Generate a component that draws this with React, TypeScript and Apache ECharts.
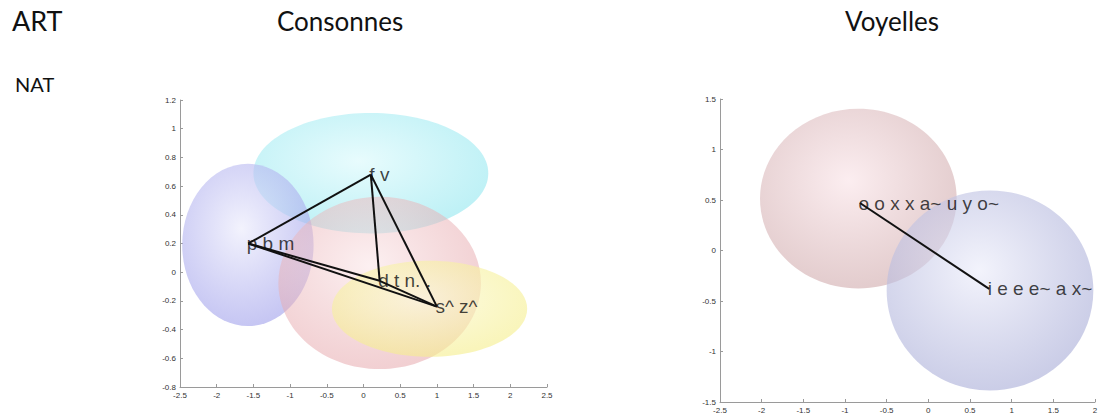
import React, { useEffect, useRef } from "react";
import * as echarts from "echarts";

// ---- Data: Consonnes (left panel) ----
const consLabels = ["p b m", "f v", "d t n. .", "s^ z^"];
const consX = [-1.57, 0.1, 0.22, 1.0];
const consY = [0.2, 0.68, -0.06, -0.24];
// edges between category centres (index pairs)
const consEdges = [
  [0, 1],
  [1, 2],
  [1, 3],
  [0, 2],
  [0, 3],
  [2, 3],
];
// ellipses: centre x, centre y, radius x, radius y
const consEllCx = [0.1, -1.575, 0.22, 0.9];
const consEllCy = [0.69, 0.19, -0.075, -0.255];
const consEllRx = [1.6, 0.895, 1.38, 1.33];
const consEllRy = [0.42, 0.565, 0.6, 0.335];
const consEllBase = [
  "rgba(150,232,240,0.62)",
  "rgba(160,160,235,0.6)",
  "rgba(228,160,165,0.5)",
  "rgba(245,238,140,0.6)",
];
const consEllLight = [
  "rgba(220,250,252,0.66)",
  "rgba(236,236,252,0.65)",
  "rgba(250,228,230,0.55)",
  "rgba(252,250,215,0.65)",
];

// ---- Data: Voyelles (right panel) ----
const voyLabels = ["o o x x a~ u y o~", "i e e e~ a x~"];
const voyX = [-0.82, 0.73];
const voyY = [0.47, -0.38];
const voyEllCx = [-0.84, 0.74];
const voyEllCy = [0.514, -0.395];
const voyEllRx = [1.18, 1.24];
const voyEllRy = [0.89, 0.99];
const voyEllBase = ["rgba(208,170,172,0.6)", "rgba(168,172,215,0.6)"];
const voyEllLight = ["rgba(250,228,232,0.65)", "rgba(236,237,250,0.65)"];

// ---- Axis ranges / ticks ----
const consXMin = -2.5, consXMax = 2.5, consXStep = 0.5;
const consYMin = -0.8, consYMax = 1.2, consYStep = 0.2;
const voyXMin = -2.5, voyXMax = 2, voyXStep = 0.5;
const voyYMin = -1.5, voyYMax = 1.5, voyYStep = 0.5;

const titles = [
  { text: "ART", x: 12, y: 24, size: 27 },
  { text: "Consonnes", x: 277, y: 24, size: 26 },
  { text: "Voyelles", x: 845, y: 24, size: 26 },
  { text: "NAT", x: 15, y: 86, size: 20 },
];

function fmt(v: number) {
  const r = Math.round(v * 10) / 10;
  return String(r);
}

function axisStyle() {
  return {
    axisLine: { show: true, onZero: false, lineStyle: { color: "#9a9a9a", width: 1 } },
    axisTick: { show: true, inside: true, length: 3, lineStyle: { color: "#9a9a9a" } },
    splitLine: { show: false },
    axisLabel: {
      color: "#333",
      fontSize: 8,
      fontFamily: "Liberation Sans, Arial, sans-serif",
      formatter: (v: number) => fmt(v),
      margin: 4,
    },
  };
}

function ellipseSeries(
  gridIdx: number,
  cx: number[],
  cy: number[],
  rx: number[],
  ry: number[],
  base: string[],
  light: string[]
) {
  return {
    type: "custom",
    xAxisIndex: gridIdx,
    yAxisIndex: gridIdx,
    clip: false,
    silent: true,
    data: cx.map((x, i) => [x, cy[i], rx[i], ry[i], i]),
    renderItem: (params: any, api: any) => {
      const i = api.value(4);
      const c = api.coord([api.value(0), api.value(1)]);
      const s = api.size([api.value(2), api.value(3)]);
      return {
        type: "ellipse",
        shape: { cx: c[0], cy: c[1], rx: s[0], ry: s[1] },
        style: {
          fill: new echarts.graphic.RadialGradient(0.45, 0.4, 0.6, [
            { offset: 0, color: light[i] },
            { offset: 1, color: base[i] },
          ]),
          stroke: "none",
        },
      };
    },
  };
}

function labelSeries(gridIdx: number, xs: number[], ys: number[], labels: string[], size: number) {
  return {
    type: "scatter",
    xAxisIndex: gridIdx,
    yAxisIndex: gridIdx,
    symbolSize: 1,
    itemStyle: { color: "rgba(0,0,0,0)" },
    silent: true,
    z: 5,
    data: xs.map((x, i) => ({ value: [x, ys[i]], name: labels[i] })),
    label: {
      show: true,
      position: "right",
      distance: -2,
      formatter: (p: any) => p.name,
      color: "#111",
      fontSize: size,
      fontFamily: "Liberation Sans, Arial, sans-serif",
    },
  };
}

export default function App() {
  const ref = useRef<HTMLDivElement>(null);
  useEffect(() => {
    document.body.style.margin = "0";
    const chart = echarts.init(ref.current!, null, { renderer: "svg" });

    const lineSeries: any[] = [];
    consEdges.forEach(([a, b]) => {
      lineSeries.push({
        type: "line",
        xAxisIndex: 0,
        yAxisIndex: 0,
        symbol: "none",
        silent: true,
        z: 4,
        lineStyle: { color: "#111", width: 2 },
        data: [
          [consX[a], consY[a]],
          [consX[b], consY[b]],
        ],
      });
    });
    lineSeries.push({
      type: "line",
      xAxisIndex: 1,
      yAxisIndex: 1,
      symbol: "none",
      silent: true,
      z: 4,
      lineStyle: { color: "#111", width: 2 },
      data: [
        [voyX[0], voyY[0]],
        [voyX[1], voyY[1]],
      ],
    });

    chart.setOption({
      animation: false,
      backgroundColor: "#fff",
      grid: [
        { left: 180, top: 100, width: 367, height: 287 },
        { left: 720, top: 99, width: 375, height: 304 },
      ],
      xAxis: [
        { type: "value", gridIndex: 0, min: consXMin, max: consXMax, interval: consXStep, ...axisStyle() },
        { type: "value", gridIndex: 1, min: voyXMin, max: voyXMax, interval: voyXStep, ...axisStyle() },
      ],
      yAxis: [
        { type: "value", gridIndex: 0, min: consYMin, max: consYMax, interval: consYStep, ...axisStyle() },
        { type: "value", gridIndex: 1, min: voyYMin, max: voyYMax, interval: voyYStep, ...axisStyle() },
      ],
      graphic: titles.map((t) => ({
        type: "text",
        left: t.x,
        top: t.y - t.size * 0.62,
        style: {
          text: t.text,
          fontSize: t.size,
          fontFamily: "Lato, 'Open Sans', sans-serif",
          fill: "#111",
        },
      })),
      series: [
        ellipseSeries(0, consEllCx, consEllCy, consEllRx, consEllRy, consEllBase, consEllLight),
        ellipseSeries(1, voyEllCx, voyEllCy, voyEllRx, voyEllRy, voyEllBase, voyEllLight),
        ...lineSeries,
        labelSeries(0, consX, consY, consLabels, 19),
        labelSeries(1, voyX, voyY, voyLabels, 19),
      ],
    });
    return () => chart.dispose();
  }, []);
  return <div ref={ref} style={{ width: 1109, height: 414 }} />;
}
